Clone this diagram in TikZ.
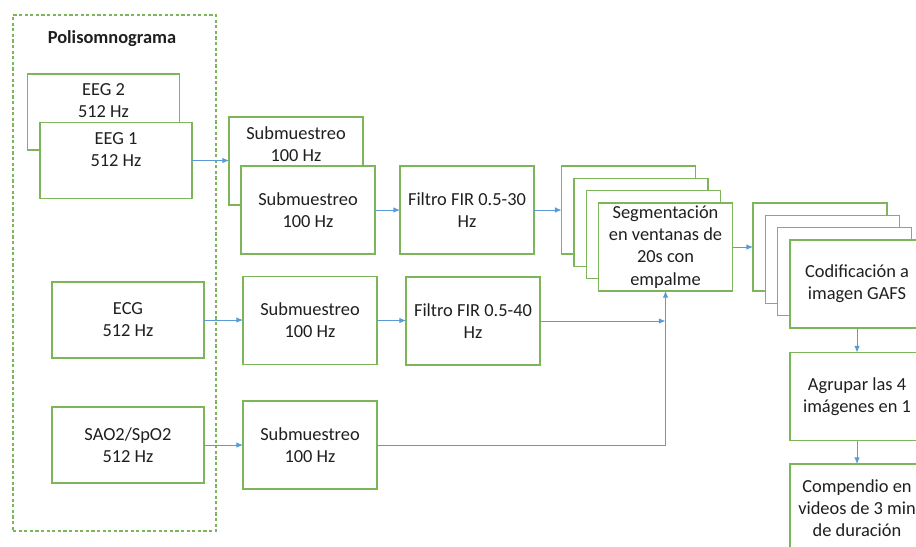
\documentclass[tikz,border=0pt]{standalone}
\usepackage{fontspec}
\setmainfont{Carlito}
\usetikzlibrary{arrows.meta}

\definecolor{boxgreen}{HTML}{7DB65A}
\definecolor{flowblue}{HTML}{5B9BD5}
\definecolor{ink}{HTML}{1F1F1F}
\newcommand{\lbl}{\fontsize{13.8pt}{16.6pt}\selectfont}

\tikzset{
  box/.style={draw=boxgreen, line width=0.95pt, fill=white, inner sep=0pt,
              outer sep=0pt, align=center, font=\lbl, text=ink},
  stagebox/.style={box, minimum width=100.5pt, minimum height=66pt},
  sourcebox/.style={box, minimum width=114pt, minimum height=57pt},
  txt/.style={align=center, font=\lbl, text=ink, inner sep=0pt},
  flow/.style={draw=flowblue, line width=0.75pt,
               -{Latex[length=5pt,width=4.2pt]}},
  link/.style={draw=flowblue, line width=0.75pt},
  frame/.style={draw=boxgreen, line width=0.9pt, dash pattern=on 2.4pt off 1.8pt,
                inner sep=0pt, outer sep=0pt}
}

\begin{document}
\begin{tikzpicture}[x=0.75pt, y=-0.75pt]
  \useasboundingbox (0,0) rectangle (916,546);
  \clip (0,0) rectangle (916,546);
  \fill[white] (0,0) rectangle (916,546);

  % Polysomnogram group
  \node[frame, minimum width=152.25pt, minimum height=387pt] (psg) at (114.5,273) {};
  \node[txt, font=\lbl\bfseries] (psgtitle) at (112,39) {Polisomnograma};

  % EEG channels
  \node[sourcebox] (eeg2) at (103.5,112) {};
  \node[txt] (eeg2t) at ([yshift=8.5pt]eeg2.center) {EEG 2\\512 Hz};
  \node[sourcebox] (eeg1) at (116,160.5) {};
  \node[txt] (eeg1t) at ([yshift=8pt]eeg1.center) {EEG 1\\512 Hz};

  \node[stagebox] (subA) at (296,161) {};
  \node[txt] (subAt) at ([yshift=12.5pt]subA.center) {Submuestreo\\100 Hz};
  \node[stagebox] (subB) at (308,210) {Submuestreo\\100 Hz};
  \node[stagebox] (fir30) at (467,210) {Filtro FIR 0.5-30\\Hz};

  % ECG and SpO2 channels
  \node[sourcebox] (ecg) at (128,320) {ECG\\512 Hz};
  \node[stagebox] (subC) at (310,320.5) {Submuestreo\\100 Hz};
  \node[stagebox] (fir40) at (473,321) {Filtro FIR 0.5-40\\Hz};

  \node[sourcebox] (sao) at (128,445) {SAO2/SpO2\\512 Hz};
  \node[stagebox] (subD) at (310,445) {Submuestreo\\100 Hz};

  % Segmentation stack
  \node[stagebox] (seg1) at (628.6,210) {};
  \node[stagebox] (seg2) at (640.9,222.3) {};
  \node[stagebox] (seg3) at (653.2,234.6) {};
  \node[stagebox] (seg4) at (665.5,247)
       {Segmentación\\en ventanas de\\20s con\\empalme};

  % Encoding stack
  \node[stagebox] (cod1) at (820,247) {};
  \node[stagebox] (cod2) at (832.3,259.3) {};
  \node[stagebox] (cod3) at (844.6,271.6) {};
  \node[stagebox] (cod4) at (857,284) {Codificación a\\imagen GAFS};

  \node[stagebox] (agr) at (857,396.5) {Agrupar las 4\\imágenes en 1};
  \node[stagebox] (comp) at (857,508)
       {Compendio en\\videos de 3 min\\de duración};

  % Junction points of the merging lines
  \coordinate (jE) at (seg4.south |- fir40.east);
  \coordinate (jS) at (seg4.south |- subD.east);

  % Connectors
  \draw[flow] (eeg1.east) -- (eeg1.east -| subA.west);
  \draw[flow] (subB) -- (fir30);
  \draw[flow] (fir30) -- (seg1);
  \draw[flow] (seg4.east) -- (seg4.east -| cod1.west);
  \draw[flow] (cod4) -- (agr);
  \draw[flow] (agr) -- (comp);

  \draw[flow] (ecg) -- (ecg -| subC.west);
  \draw[flow] (subC) -- (subC -| fir40.west);
  \draw[flow] (fir40.east) -- (jE);

  \draw[flow] (sao) -- (subD);
  \draw[link] (subD.east) -- (jS);
  \draw[flow] (jS) -- (seg4.south);
\end{tikzpicture}
\end{document}
